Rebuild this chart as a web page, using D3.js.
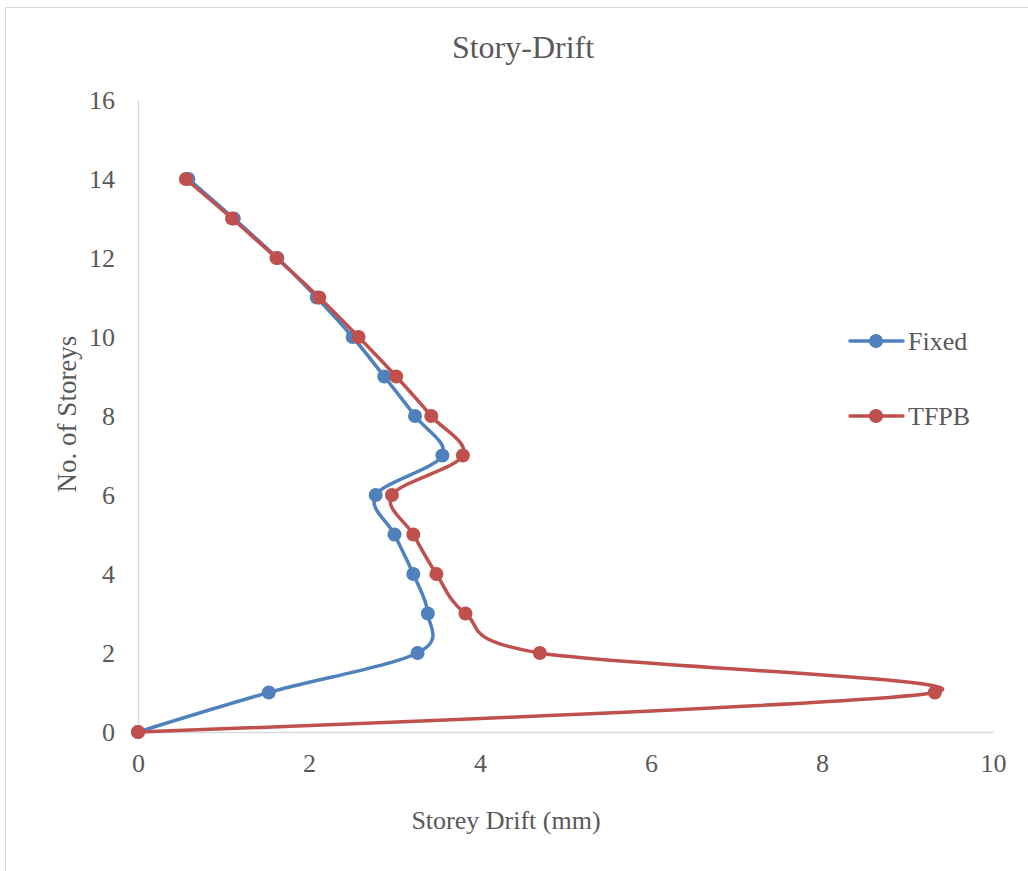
<!DOCTYPE html>
<html>
<head>
<meta charset="utf-8">
<script src="https://cdn.jsdelivr.net/npm/d3@7"></script>
<style>
  body { margin: 0; background: #fff; }
  svg { display: block; }
</style>
</head>
<body>
<svg id="chart"></svg>
<script>
const storeys = [0, 1, 2, 3, 4, 5, 6, 7, 8, 9, 10, 11, 12, 13, 14];
const fixedDrift = [0, 1.53, 3.27, 3.39, 3.22, 3.0, 2.78, 3.56, 3.24, 2.88, 2.51, 2.09, 1.63, 1.12, 0.59];
const tfpbDrift = [0, 9.32, 4.7, 3.83, 3.49, 3.22, 2.97, 3.8, 3.43, 3.02, 2.58, 2.12, 1.62, 1.1, 0.56];
const xTicks = [0, 2, 4, 6, 8, 10];
const yTicks = [0, 2, 4, 6, 8, 10, 12, 14, 16];

const series = [
  { name: "Fixed", values: fixedDrift, color: "#4F81BD" },
  { name: "TFPB", values: tfpbDrift, color: "#C0504D" }
];

const width = 1028;
const height = 871;
const margin = { top: 100, right: 35, bottom: 139, left: 138 };

const svg = d3.select("#chart").attr("width", width).attr("height", height);

// chart frame (runs off the right and bottom like the source)
svg.append("path")
  .attr("d", "M1028,7.5H5.5V871")
  .attr("fill", "none").attr("stroke", "#d9d9d9");

const innerWidth = width - margin.left - margin.right;
const innerHeight = height - margin.top - margin.bottom;

const chartArea = svg.append("g").attr("transform", `translate(${margin.left},${margin.top})`);

const xScale = d3.scaleLinear().domain([0, 10]).range([0, innerWidth]);
const yScale = d3.scaleLinear().domain([0, 16]).range([innerHeight, 0]);

const font = "'Liberation Serif', 'Times New Roman', serif";

// Axes
const xAxis = chartArea.append("g")
  .attr("transform", `translate(0,${innerHeight})`)
  .call(d3.axisBottom(xScale).tickValues(xTicks).tickSize(0).tickPadding(22));
xAxis.select(".domain").attr("stroke", "#d9d9d9").attr("stroke-width", 1.5);
xAxis.selectAll("text").style("fill", "#595959").style("font-size", "26px").style("font-family", font);

const yAxis = chartArea.append("g")
  .call(d3.axisLeft(yScale).tickValues(yTicks).tickSize(0).tickPadding(23));
yAxis.select(".domain").attr("stroke", "#d9d9d9").attr("stroke-width", 1.5);
yAxis.selectAll("text").style("fill", "#595959").style("font-size", "26px").style("font-family", font);

// Title
svg.append("text")
  .attr("x", 523).attr("y", 58)
  .attr("text-anchor", "middle")
  .style("fill", "#595959").style("font-size", "32px").style("font-family", font)
  .text("Story-Drift");

// X Axis Label
svg.append("text")
  .attr("x", 506).attr("y", 829)
  .attr("text-anchor", "middle")
  .style("fill", "#595959").style("font-size", "26px").style("font-family", font)
  .text("Storey Drift (mm)");

// Y Axis Label
svg.append("text")
  .attr("transform", "rotate(-90)")
  .attr("x", -414).attr("y", 76)
  .attr("text-anchor", "middle")
  .style("fill", "#595959").style("font-size", "27px").style("font-family", font)
  .text("No. of Storeys");

// Lines (smoothed like the spreadsheet's "smooth line" option)
const line = d3.line()
  .x((d) => xScale(d[0]))
  .y((d) => yScale(d[1]))
  .curve(d3.curveCardinal.tension(0));

series.forEach((s) => {
  const pts = s.values.map((v, i) => [v, storeys[i]]);
  chartArea.append("path")
    .datum(pts)
    .attr("d", line)
    .attr("fill", "none")
    .attr("stroke", s.color)
    .attr("stroke-width", 3.5)
    .attr("stroke-linecap", "round");
  chartArea.selectAll(null)
    .data(pts)
    .enter()
    .append("circle")
    .attr("cx", (d) => xScale(d[0]))
    .attr("cy", (d) => yScale(d[1]))
    .attr("r", 7)
    .attr("fill", s.color);
});

// Legend
const legend = svg.append("g");
series.forEach((s, i) => {
  const y = 341 + i * 75;
  legend.append("line")
    .attr("x1", 850).attr("x2", 903).attr("y1", y).attr("y2", y)
    .attr("stroke", s.color).attr("stroke-width", 3.5).attr("stroke-linecap", "round");
  legend.append("circle").attr("cx", 876).attr("cy", y).attr("r", 7).attr("fill", s.color);
  legend.append("text")
    .attr("x", 908).attr("y", y + 9)
    .style("fill", "#595959").style("font-size", "26px").style("font-family", font)
    .text(s.name);
});
</script>
</body>
</html>
